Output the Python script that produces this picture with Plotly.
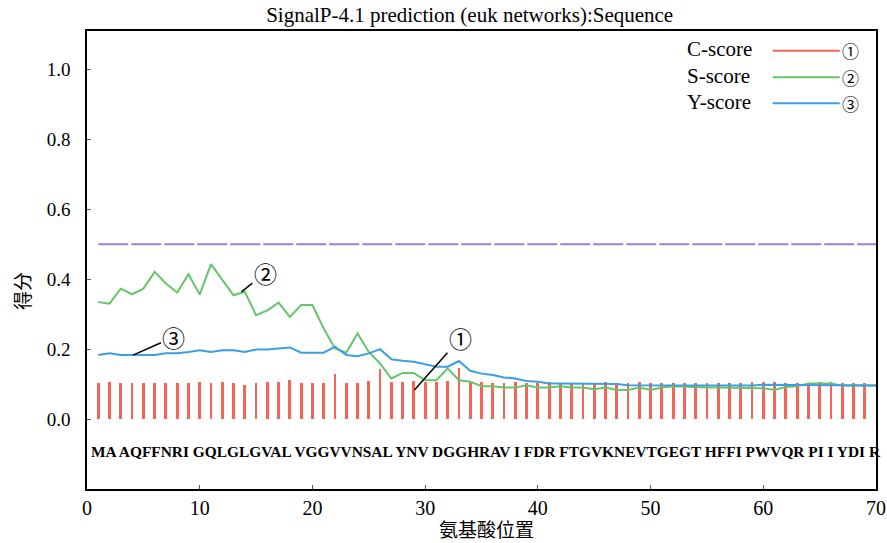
import plotly.graph_objects as go

# ---------------- data ----------------
positions = list(range(1, 71))
c_positions = list(range(1, 70))

c_score = [0.102, 0.105, 0.102, 0.102, 0.102, 0.102, 0.102, 0.102, 0.102, 0.107,
           0.102, 0.105, 0.102, 0.097, 0.102, 0.105, 0.107, 0.113, 0.102, 0.102,
           0.102, 0.128, 0.102, 0.102, 0.110, 0.143, 0.105, 0.105, 0.110, 0.105,
           0.105, 0.110, 0.145, 0.105, 0.105, 0.103, 0.103, 0.105, 0.103, 0.103,
           0.105, 0.103, 0.103, 0.103, 0.103, 0.105, 0.103, 0.103, 0.105, 0.103,
           0.103, 0.102, 0.102, 0.102, 0.102, 0.102, 0.102, 0.102, 0.105, 0.105,
           0.105, 0.102, 0.102, 0.102, 0.105, 0.105, 0.102, 0.102, 0.102]

s_score = [0.335, 0.330, 0.373, 0.357, 0.373, 0.421, 0.388, 0.362, 0.414, 0.356,
           0.443, 0.399, 0.354, 0.364, 0.297, 0.311, 0.333, 0.292, 0.326, 0.326,
           0.259, 0.202, 0.190, 0.245, 0.192, 0.159, 0.116, 0.132, 0.132, 0.111,
           0.111, 0.145, 0.111, 0.107, 0.094, 0.094, 0.090, 0.090, 0.097, 0.090,
           0.090, 0.094, 0.090, 0.090, 0.085, 0.090, 0.083, 0.083, 0.090, 0.083,
           0.090, 0.094, 0.092, 0.092, 0.090, 0.090, 0.090, 0.088, 0.088, 0.088,
           0.083, 0.092, 0.094, 0.102, 0.102, 0.102, 0.096, 0.096, 0.096, 0.096]

y_score = [0.183, 0.188, 0.183, 0.183, 0.183, 0.183, 0.188, 0.188, 0.192, 0.197,
           0.192, 0.197, 0.197, 0.192, 0.199, 0.199, 0.202, 0.205, 0.190, 0.190,
           0.190, 0.207, 0.183, 0.180, 0.188, 0.200, 0.171, 0.167, 0.164, 0.157,
           0.150, 0.150, 0.166, 0.138, 0.130, 0.126, 0.119, 0.116, 0.109, 0.107,
           0.102, 0.102, 0.102, 0.102, 0.102, 0.101, 0.100, 0.097, 0.097, 0.097,
           0.096, 0.095, 0.095, 0.095, 0.095, 0.095, 0.095, 0.096, 0.096, 0.098,
           0.098, 0.096, 0.096, 0.097, 0.097, 0.097, 0.096, 0.096, 0.096, 0.096]

cutoff = 0.5
sequence_text = "MA AQFFNRI GQLGLGVAL VGGVVNSAL YNV DGGHRAV I FDR FTGVKNEVTGEGT HFFI PWVQR PI I YDI R"
x_ticks = [0, 10, 20, 30, 40, 50, 60, 70]
y_ticks = [0.0, 0.2, 0.4, 0.6, 0.8, 1.0]
y_tick_labels = ["0.0", "0.2", "0.4", "0.6", "0.8", "1.0"]
legend_names = ["C-score", "S-score", "Y-score"]
circled = ["①", "②", "③"]

RED = "#f46457"
GREEN = "#66c46a"
BLUE = "#3b9fe2"
PURPLE = "#9d80d3"
SERIF = "Liberation Serif, Times New Roman, serif"
CJK = "Noto Sans CJK SC"

W, H = 887, 543

fig = go.Figure()

fig.add_trace(go.Bar(x=c_positions, y=c_score, width=0.25,
                     marker=dict(color=RED, line=dict(width=0)),
                     showlegend=False, hoverinfo="skip"))
fig.add_trace(go.Scatter(x=positions, y=s_score, mode="lines",
                         line=dict(color=GREEN, width=2), showlegend=False))
fig.add_trace(go.Scatter(x=positions, y=y_score, mode="lines",
                         line=dict(color=BLUE, width=2), showlegend=False))
fig.add_trace(go.Scatter(x=[1, 70], y=[cutoff, cutoff], mode="lines",
                         line=dict(color=PURPLE, width=2, dash="30px,3px"),
                         showlegend=False))

annotations = []
# sequence text
annotations.append(dict(x=35.4, y=-0.094, xref="x", yref="y",
                        text="<b>" + sequence_text + "</b>",
                        showarrow=False, font=dict(family=SERIF, size=15.4, color="black"),
                        xanchor="center", yanchor="middle"))
# leader annotations
leaders = [(29.05, 0.083, 46, -52, circled[0]),
           (13.7, 0.364, 24, -19, circled[1]),
           (4.08, 0.183, 41, -18, circled[2])]
for (lx, ly, ax, ay, t) in leaders:
    annotations.append(dict(x=lx, y=ly, xref="x", yref="y", text=t, showarrow=True,
                            arrowhead=0, arrowwidth=1.5, arrowcolor="black",
                            ax=ax, ay=ay, font=dict(family=CJK, size=23, color="black")))

# legend (manual)
leg_y_text = [0.9607, 0.9025, 0.8457]
leg_y_line = [0.9570, 0.8989, 0.8421]
leg_colors = [RED, GREEN, BLUE]
shapes = []
for i in range(3):
    annotations.append(dict(x=0.758, y=leg_y_text[i], xref="paper", yref="paper",
                            text=legend_names[i], showarrow=False, xanchor="left",
                            yanchor="middle", font=dict(family=SERIF, size=21, color="black")))
    shapes.append(dict(type="line", xref="paper", yref="paper", x0=0.869, x1=0.954,
                       y0=leg_y_line[i], y1=leg_y_line[i],
                       line=dict(color=leg_colors[i], width=2)))
    annotations.append(dict(x=0.968, y=leg_y_line[i], xref="paper", yref="paper",
                            text=circled[i], showarrow=False, xanchor="center",
                            yanchor="middle", font=dict(family=CJK, size=17, color="black")))

# axis titles as annotations
annotations.append(dict(x=0, y=0.366, xref="paper", yref="y", text="得分", textangle=-90,
                        showarrow=False, xshift=-66, xanchor="center", yanchor="middle",
                        font=dict(family=CJK, size=19, color="black")))
annotations.append(dict(x=0.506, y=0, xref="paper", yref="paper", text="氨基酸位置",
                        showarrow=False, yshift=-39, yanchor="middle", xanchor="center",
                        font=dict(family=CJK, size=19, color="black")))

fig.update_layout(
    width=W, height=H,
    margin=dict(l=87, r=11, t=31, b=54),
    paper_bgcolor="white", plot_bgcolor="white",
    title=dict(text="SignalP-4.1 prediction (euk networks):Sequence",
               x=0.485, xref="paper", xanchor="center",
               y=1 - 15 / H, yref="container", yanchor="middle",
               font=dict(family=SERIF, size=21, color="black")),
    xaxis=dict(range=[0, 70], tickvals=x_ticks, ticks="inside", ticklen=4,
               tickcolor="#555", showgrid=False, zeroline=False, automargin=False,
               ticklabeloverflow="allow",
               showline=True, linecolor="black", linewidth=1.5, mirror=True,
               tickfont=dict(family=SERIF, size=20, color="black")),
    yaxis=dict(range=[-0.2, 1.11], tickvals=y_ticks, ticktext=y_tick_labels,
               ticks="inside", ticklen=4, tickcolor="#555", showgrid=False,
               zeroline=False, automargin=False, showline=True, linecolor="black",
               linewidth=1.5, mirror=True, ticklabelstandoff=11,
               tickfont=dict(family=SERIF, size=19, color="black")),
    annotations=annotations,
    shapes=shapes,
    bargap=0,
)

fig.write_html("out.html", config={"displayModeBar": False},
               post_script="document.body.style.margin='0';document.body.style.overflow='hidden';")
